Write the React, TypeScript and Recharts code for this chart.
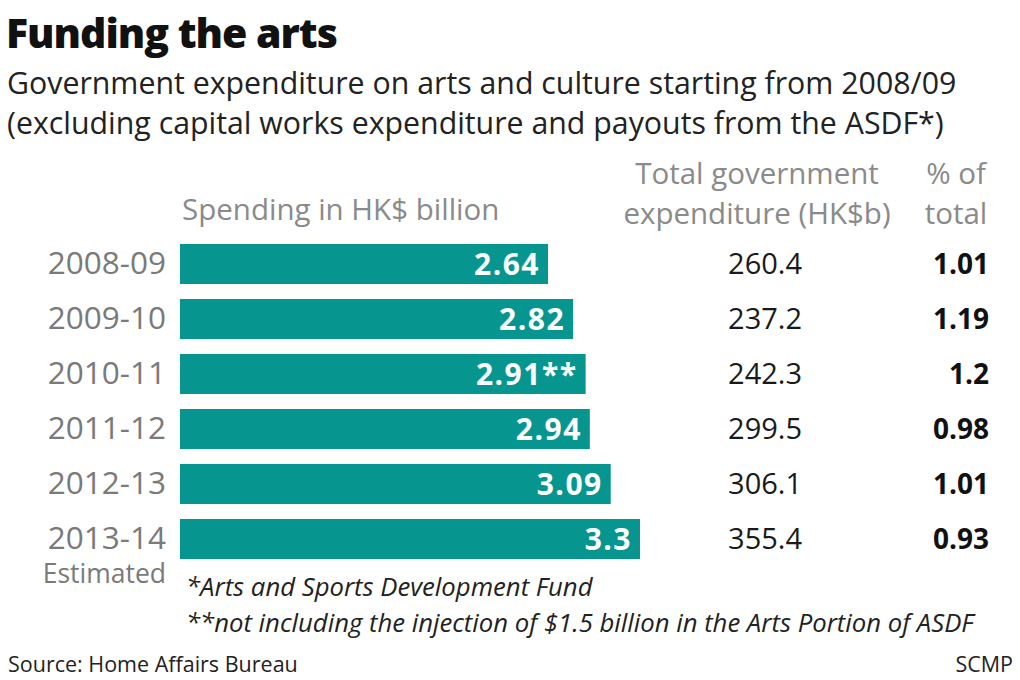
import React from "react";
import { BarChart, Bar, XAxis, YAxis, LabelList } from "recharts";

const years = ["2008-09", "2009-10", "2010-11", "2011-12", "2012-13", "2013-14"];
const yearNotes = ["", "", "", "", "", "Estimated"];
const spending = [2.64, 2.82, 2.91, 2.94, 3.09, 3.3];
const spendingLabels = ["2.64", "2.82", "2.91**", "2.94", "3.09", "3.3"];
const totalExpenditure = ["260.4", "237.2", "242.3", "299.5", "306.1", "355.4"];
const pctOfTotal = ["1.01", "1.19", "1.2", "0.98", "1.01", "0.93"];

const rows = years.map((year, i) => ({
  year,
  note: yearNotes[i],
  spending: spending[i],
  label: spendingLabels[i],
  total: totalExpenditure[i],
  pct: pctOfTotal[i],
}));

const FONT = "'Open Sans', sans-serif";
const TEAL = "#06968f";

const YearTick = (props: any) => {
  const { x, y, payload, index } = props;
  const note = yearNotes[index];
  return (
    <g>
      <text x={x} y={y} dy={10} textAnchor="end" fontFamily={FONT} fontSize={31.5} fill="#7a7a7a">
        {payload.value}
      </text>
      {note ? (
        <text x={x} y={y} dy={44} textAnchor="end" fontFamily={FONT} fontSize={26.5} fill="#7a7a7a">
          {note}
        </text>
      ) : null}
    </g>
  );
};

// extra table columns drawn next to each bar row
const TableCols = (props: any) => {
  const { y, height, index } = props;
  const cy = y + height / 2 + 10;
  return (
    <g fontFamily={FONT}>
      <text x={802} y={cy} textAnchor="end" fill="#1a1a1a" fontSize={29}>
        {totalExpenditure[index]}
      </text>
      <text x={989} y={cy} textAnchor="end" fill="#111" fontSize={28} fontWeight={700}>
        {pctOfTotal[index]}
      </text>
    </g>
  );
};

const abs = (left: number, top: number, extra: React.CSSProperties = {}): React.CSSProperties => ({
  position: "absolute",
  left,
  top,
  margin: 0,
  whiteSpace: "nowrap",
  fontFamily: FONT,
  lineHeight: 1,
  ...extra,
});

export default function App() {
  return (
    <div style={{ position: "absolute", left: 0, top: 0, width: 1020, height: 680, background: "#fff", overflow: "hidden" }}>
      <BarChart
        width={1020}
        height={680}
        data={rows}
        layout="vertical"
        margin={{ top: 236, right: 380, bottom: 114, left: 0 }}
        barSize={40}
      >
        <XAxis type="number" domain={[0, 3.3]} hide />
        <YAxis
          type="category"
          dataKey="year"
          width={180}
          axisLine={false}
          tickLine={false}
          tickMargin={8}
          tick={<YearTick />}
          interval={0}
        />
        <Bar dataKey="spending" fill={TEAL} isAnimationActive={false}>
          <LabelList
            dataKey="label"
            position="insideRight"
            offset={8}
            fill="#fff"
            fontFamily={FONT}
            fontSize={30}
            fontWeight={700}
            letterSpacing={1.5}
          />
          <LabelList dataKey="total" content={<TableCols />} />
        </Bar>
      </BarChart>

      <div style={abs(6, 12, { fontSize: 41, fontWeight: 800, color: "#111", letterSpacing: -1 })}>Funding the arts</div>
      <div style={abs(7, 68, { fontSize: 30.3, color: "#222" })}>
        Government expenditure on arts and culture starting from 2008/09
      </div>
      <div style={abs(7, 108, { fontSize: 30.3, color: "#222" })}>
        (excluding capital works expenditure and payouts from the ASDF*)
      </div>

      <div style={abs(182, 194, { fontSize: 29.5, color: "#8a8a8a" })}>Spending in HK$ billion</div>
      <div style={abs(557, 153, { width: 400, textAlign: "center", fontSize: 29.5, color: "#8a8a8a", lineHeight: "40px" })}>
        Total government
        <br />
        expenditure (HK$b)
      </div>
      <div style={abs(906, 153, { width: 100, textAlign: "center", fontSize: 29.5, color: "#8a8a8a", lineHeight: "40px" })}>
        % of
        <br />
        total
      </div>

      <div style={abs(186, 574, { fontSize: 25.7, fontStyle: "italic", color: "#222" })}>*Arts and Sports Development Fund</div>
      <div style={abs(186, 610, { fontSize: 25.7, fontStyle: "italic", color: "#222" })}>
        **not including the injection of $1.5 billion in the Arts Portion of ASDF
      </div>
      <div style={abs(8, 653, { fontSize: 21.5, color: "#222" })}>Source: Home Affairs Bureau</div>
      <div style={abs(0, 653, { width: 1013, textAlign: "right", fontSize: 21.5, color: "#222" })}>SCMP</div>
    </div>
  );
}
